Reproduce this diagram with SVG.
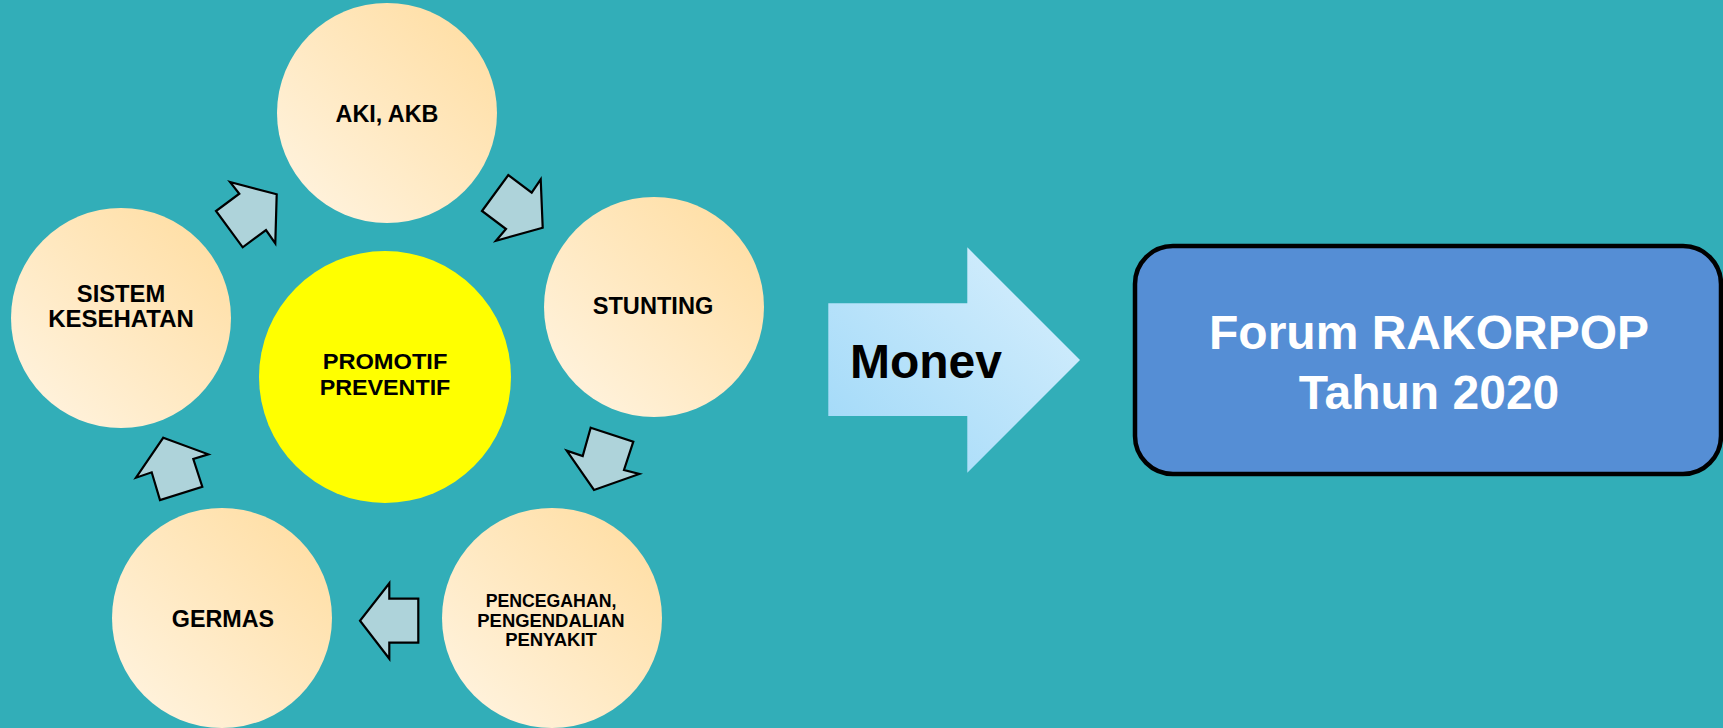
<svg xmlns="http://www.w3.org/2000/svg" width="1723" height="728" viewBox="0 0 1723 728">
<defs>
<linearGradient id="beige" x1="0" y1="1" x2="1" y2="0">
<stop offset="0" stop-color="#FFF5E4"/>
<stop offset="1" stop-color="#FFDC9E"/>
</linearGradient>
<linearGradient id="blue" x1="0" y1="1" x2="1" y2="0">
<stop offset="0" stop-color="#9ED8F8"/>
<stop offset="1" stop-color="#DAF0FD"/>
</linearGradient>
<style>
.c{fill:url(#beige)}
.t{font-family:"Liberation Sans",Arial,sans-serif;font-weight:bold;fill:#000;text-anchor:middle}
.a{fill:#AED3DA;stroke:#000;stroke-width:2.2;stroke-linejoin:miter}
</style>
</defs>
<rect width="1723" height="728" fill="#32AEB8"/>
<g id="connectors">
<polygon class="a" points="230,182 276.7,194.3 275.3,243.3 266,230 242.7,247.3 216,211 239.3,193.7"/>
<polygon class="a" points="482,211 508.3,175 531.7,192.7 540.7,179.3 542.7,227.7 496,240.7 506,229"/>
<polygon class="a" points="590.7,427.7 633.3,441.7 624,470 639.3,474 594,490 566.7,450.7 582.7,456"/>
<polygon class="a" points="389.3,583.3 389.3,598.7 418.3,598.7 418.3,642.7 389.3,642.7 389.3,658.7 360,620.7"/>
<polygon class="a" points="163.3,437.7 208.3,454.3 193.3,459 202.3,486.7 160,500 151.7,472.3 136,477.7"/>
</g>
<g id="aki">
<circle class="c" cx="387" cy="113" r="110"/>
<text class="t" x="387" y="121.5" font-size="23" textLength="103" lengthAdjust="spacingAndGlyphs">AKI, AKB</text>
</g>
<g id="stunting">
<circle class="c" cx="654" cy="307" r="110"/>
<text class="t" x="653" y="314.3" font-size="23" textLength="120.6" lengthAdjust="spacingAndGlyphs">STUNTING</text>
</g>
<g id="pencegahan">
<circle class="c" cx="552" cy="618" r="110"/>
<text class="t" x="551" y="606.7" font-size="18.2" textLength="130.7" lengthAdjust="spacingAndGlyphs">PENCEGAHAN,</text>
<text class="t" x="551" y="626.5" font-size="18.2" textLength="147.3" lengthAdjust="spacingAndGlyphs">PENGENDALIAN</text>
<text class="t" x="551" y="646" font-size="18.2" textLength="91.7" lengthAdjust="spacingAndGlyphs">PENYAKIT</text>
</g>
<g id="germas">
<circle class="c" cx="222" cy="618" r="110"/>
<text class="t" x="223" y="627.3" font-size="23" textLength="102.3" lengthAdjust="spacingAndGlyphs">GERMAS</text>
</g>
<g id="sistem">
<circle class="c" cx="121" cy="318" r="110"/>
<text class="t" x="121" y="301.7" font-size="23" textLength="88.3" lengthAdjust="spacingAndGlyphs">SISTEM</text>
<text class="t" x="121" y="327.3" font-size="23" textLength="145.7" lengthAdjust="spacingAndGlyphs">KESEHATAN</text>
</g>
<g id="promotif">
<circle cx="385" cy="377" r="126" fill="#FFFF00"/>
<text class="t" x="385" y="369.3" font-size="22" textLength="124.7" lengthAdjust="spacingAndGlyphs">PROMOTIF</text>
<text class="t" x="385" y="395" font-size="22" textLength="130.7" lengthAdjust="spacingAndGlyphs">PREVENTIF</text>
</g>
<g id="monev">
<polygon points="828.3,303.3 967.3,303.3 967.3,247.3 1080,360 967.3,472.7 967.3,416 828.3,416" fill="url(#blue)"/>
<text x="926" y="378.3" font-size="48" font-family="Liberation Sans,Arial,sans-serif" font-weight="bold" text-anchor="middle" fill="#000">Monev</text>
</g>
<g id="forum">
<rect x="1135" y="246" width="586" height="228" rx="38" fill="#558ED5" stroke="#000" stroke-width="4.5"/>
<text x="1429" y="349" font-size="48" font-family="Liberation Sans,Arial,sans-serif" font-weight="bold" text-anchor="middle" fill="#FFFFFF">Forum RAKORPOP</text>
<text x="1429" y="409" font-size="48" font-family="Liberation Sans,Arial,sans-serif" font-weight="bold" text-anchor="middle" fill="#FFFFFF">Tahun 2020</text>
</g>
</svg>
